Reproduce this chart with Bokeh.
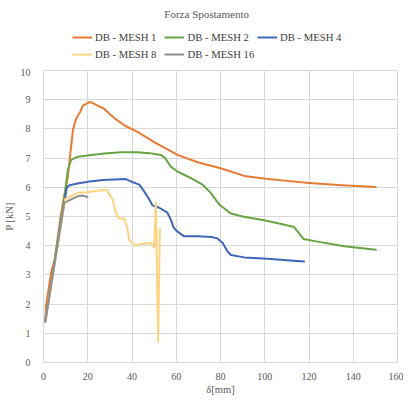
from bokeh.plotting import figure
from bokeh.models import Range1d, Legend, LegendItem, FixedTicker, Label
from bokeh.layouts import column
from bokeh.embed import file_html
from bokeh.resources import INLINE

# ---- data ----
mesh1_x = [0.8, 1.2, 3.5, 5.0, 8.0, 11.0, 13.3, 14.5, 15.5, 16.6, 17.8, 20.8, 22.1, 24.5, 27.4, 30.0,
           33.4, 37.0, 42.5, 50.0, 60.6, 70.0, 80.1, 90.7, 100.5, 110.0, 120.0, 135.0, 150.2]
mesh1_y = [1.4, 1.97, 3.1, 3.5, 5.13, 6.37, 7.96, 8.29, 8.46, 8.58, 8.8, 8.92, 8.89, 8.8, 8.69, 8.5,
           8.29, 8.1, 7.9, 7.55, 7.11, 6.85, 6.65, 6.39, 6.29, 6.22, 6.15, 6.07, 6.01]

mesh2_x = [0.8, 9.5, 11.0, 12.5, 15.5, 20.8, 27.4, 34.9, 42.5, 48.0, 53.0, 55.0, 57.5, 60.6, 63.6,
           67.0, 71.9, 75.6, 79.4, 84.7, 90.0, 99.7, 106.0, 113.3, 117.5, 123.8, 135.9, 150.2]
mesh2_y = [1.4, 5.7, 6.6, 6.94, 7.05, 7.1, 7.16, 7.2, 7.2, 7.17, 7.11, 7.0, 6.71, 6.54, 6.43,
           6.3, 6.09, 5.81, 5.41, 5.1, 5.0, 4.87, 4.77, 4.64, 4.23, 4.14, 3.98, 3.86]

mesh4_x = [0.8, 10.5, 11.4, 14.8, 20.8, 27.0, 37.2, 39.5, 43.3, 45.5, 47.8, 49.3, 52.3, 56.0, 57.5,
           58.8, 60.6, 63.6, 69.6, 76.0, 78.6, 80.9, 83.2, 84.7, 90.7, 101.2, 110.0, 117.8]
mesh4_y = [1.4, 5.98, 6.06, 6.12, 6.2, 6.25, 6.28, 6.2, 6.09, 5.86, 5.58, 5.38, 5.3, 5.13, 4.9,
           4.62, 4.48, 4.32, 4.32, 4.3, 4.25, 4.1, 3.8, 3.68, 3.6, 3.55, 3.5, 3.46]

mesh8_x = [0.8, 9.8, 15.4, 19.9, 25.9, 28.9, 29.7, 31.2, 32.7, 34.2, 36.5, 38.0, 38.7, 41.7, 44.0,
           48.5, 50.0, 50.8, 51.8, 52.6]
mesh8_y = [1.4, 5.6, 5.81, 5.83, 5.9, 5.9, 5.75, 5.6, 5.13, 4.93, 4.93, 4.57, 4.2, 4.0, 4.06,
           4.09, 3.94, 5.47, 0.72, 4.57]

mesh16_x = [0.8, 9.35, 12.3, 15.4, 17.6, 19.9]
mesh16_y = [1.4, 5.47, 5.58, 5.69, 5.72, 5.67]

series_names = ["DB - MESH 1", "DB - MESH 2", "DB - MESH 4", "DB - MESH 8", "DB - MESH 16"]
series_colors = ["#E97A34", "#67A443", "#3F66B8", "#FFD27F", "#8E8E8E"]
x_ticks = [0, 20, 40, 60, 80, 100, 120, 140, 160]
y_ticks = [0, 1, 2, 3, 4, 5, 6, 7, 8, 9, 10]
title_text = "Forza Spostamento"

FONT = "Liberation Serif"
GRID = "#d9d9d9"
TXT = "#595959"
W = 403
HEAD_H = 68
MAIN_H = 329
BL, BR = 39, 6

# ---- header: title + legend ----
head = figure(width=W, height=HEAD_H, output_backend="svg", toolbar_location=None,
              x_range=Range1d(BL, W - BR), y_range=Range1d(0, HEAD_H),
              x_axis_type=None, y_axis_type=None, title=None,
              min_border_left=BL, min_border_right=BR, min_border_top=0, min_border_bottom=0)
head.xgrid.visible = False
head.ygrid.visible = False
head.outline_line_color = None
head.background_fill_color = "white"
head.border_fill_color = "white"

head.add_layout(Label(x=204, y=HEAD_H - 13,
                      text=title_text, text_align="center", text_baseline="middle",
                      text_font=FONT, text_font_size="11px", text_color=TXT))

# legend-only renderers (no visible marks)
nan = float("nan")
head_renderers = [head.line([nan], [nan], line_color=c, line_width=2.0) for c in series_colors]

def make_legend(idx, loc):
    lg = Legend(items=[LegendItem(label=series_names[i], renderers=[head_renderers[i]]) for i in idx],
                orientation="horizontal", location=loc)
    lg.label_text_font = FONT
    lg.label_text_font_size = "10.7px"
    lg.label_text_color = "#404040"
    lg.glyph_width = 20
    lg.glyph_height = 12
    lg.label_height = 12
    lg.label_standoff = 3
    lg.spacing = 8
    lg.padding = 2
    lg.margin = 0
    lg.border_line_color = None
    lg.background_fill_alpha = 0
    return lg

head.add_layout(make_legend([0, 1, 2], (29, 25)), "center")
head.add_layout(make_legend([3, 4], (29, 8)), "center")

# ---- main chart ----
p = figure(width=W, height=MAIN_H, output_backend="svg", toolbar_location=None,
           x_range=Range1d(0, 160), y_range=Range1d(0, 10),
           min_border_left=BL, min_border_right=BR, min_border_bottom=29, min_border_top=2)

for xs, ys, c in zip([mesh1_x, mesh2_x, mesh4_x, mesh8_x, mesh16_x],
                     [mesh1_y, mesh2_y, mesh4_y, mesh8_y, mesh16_y], series_colors):
    p.line(xs, ys, line_color=c, line_width=2.0, line_join="round", line_cap="round")

for ax in (p.xaxis[0], p.yaxis[0]):
    ax.axis_line_color = None
    ax.major_tick_line_color = None
    ax.minor_tick_line_color = None
    ax.major_label_text_font = FONT
    ax.major_label_text_font_size = "10px"
    ax.major_label_text_color = TXT
    ax.axis_label_text_font = FONT
    ax.axis_label_text_font_size = "10.5px"
    ax.axis_label_text_font_style = "normal"
    ax.axis_label_text_color = TXT

p.xaxis.ticker = FixedTicker(ticks=x_ticks)
p.yaxis.ticker = FixedTicker(ticks=y_ticks)
p.xaxis.axis_label = "δ[mm]"
p.yaxis.axis_label = "P [kN]"
p.xaxis.major_label_standoff = 4
p.yaxis.major_label_standoff = 7
p.xaxis.axis_label_standoff = 1
p.yaxis.axis_label_standoff = 3

p.xgrid.grid_line_color = GRID
p.ygrid.grid_line_color = GRID
p.outline_line_color = GRID
p.background_fill_color = "white"
p.border_fill_color = "white"

layout = column(head, p, spacing=0)
open("out.html", "w").write(file_html(layout, INLINE))
